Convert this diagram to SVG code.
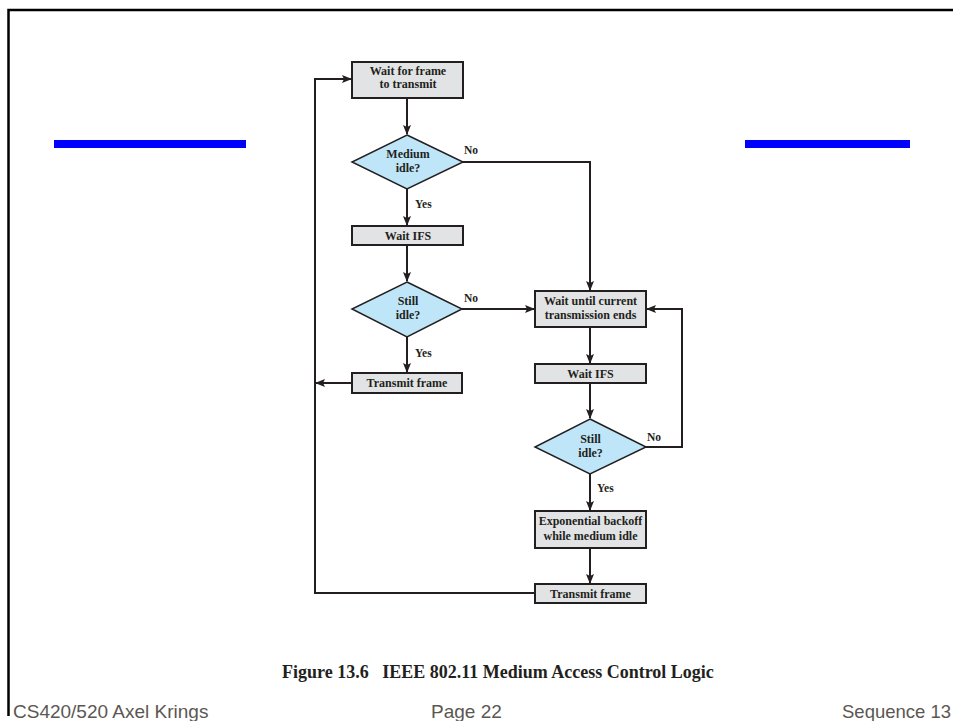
<svg xmlns="http://www.w3.org/2000/svg" width="953" height="721" viewBox="0 0 953 721">
<defs>
<style>
.box{fill:#e2e3e4;stroke:#231f20;stroke-width:2}
.dia{fill:#bfe6f8;stroke:#231f20;stroke-width:1.5}
.t{font-family:"Liberation Serif","Times New Roman",serif;font-weight:bold;font-size:12px;fill:#231f20;text-anchor:middle}
.lbl{font-family:"Liberation Serif","Times New Roman",serif;font-weight:bold;font-size:11.5px;fill:#231f20}
.c{fill:none;stroke:#231f20;stroke-width:2}
.foot{font-family:"Liberation Sans",Arial,sans-serif;font-size:19px;fill:#5b5752}
</style>
<marker id="ah" markerWidth="10" markerHeight="8" refX="9" refY="4" orient="auto" markerUnits="userSpaceOnUse">
<path d="M0,0 L10,4 L0,8 L2,4 Z" fill="#231f20"/>
</marker>
</defs>
<rect width="953" height="721" fill="#fff"/>
<path d="M8.5,716 V10 H953" fill="none" stroke="#000" stroke-width="2.5"/>
<rect x="54" y="140" width="192" height="8" fill="#0000ff"/>
<rect x="745" y="140" width="165" height="8" fill="#0000ff"/>

<g id="connectors">
<path class="c" d="M407,98 V134" marker-end="url(#ah)"/>
<path class="c" d="M407,189 V225" marker-end="url(#ah)"/>
<path class="c" d="M463,162 H590 V290" marker-end="url(#ah)"/>
<path class="c" d="M407,245 V281" marker-end="url(#ah)"/>
<path class="c" d="M407,337 V372" marker-end="url(#ah)"/>
<path class="c" d="M462,309 H534" marker-end="url(#ah)"/>
<path class="c" d="M352,383 H316" marker-end="url(#ah)"/>
<path class="c" d="M590,327 V363" marker-end="url(#ah)"/>
<path class="c" d="M590,383 V418" marker-end="url(#ah)"/>
<path class="c" d="M646,447 H682 V309 H647" marker-end="url(#ah)"/>
<path class="c" d="M590,474 V510" marker-end="url(#ah)"/>
<path class="c" d="M590,548 V583" marker-end="url(#ah)"/>
<path class="c" d="M535,593 H315 V79 H351" marker-end="url(#ah)"/>
<text class="lbl" x="464" y="154">No</text>
<text class="lbl" x="415" y="208">Yes</text>
<text class="lbl" x="464" y="302">No</text>
<text class="lbl" x="415" y="357">Yes</text>
<text class="lbl" x="647" y="441">No</text>
<text class="lbl" x="597" y="492">Yes</text>
</g>

<g id="wait-frame">
<rect class="box" x="352" y="62" width="111" height="36"/>
<text class="t" x="408" y="75">Wait for frame</text>
<text class="t" x="408" y="88">to transmit</text>
</g>
<g id="medium-idle">
<polygon class="dia" points="407,135 463,162 407,189 352,162"/>
<text class="t" x="408" y="158">Medium</text>
<text class="t" x="408" y="172">idle?</text>
</g>
<g id="wait-ifs-1">
<rect class="box" x="352" y="226" width="111" height="19"/>
<text class="t" x="408" y="240">Wait IFS</text>
</g>
<g id="still-idle-1">
<polygon class="dia" points="407,282 462,309 407,337 352,309"/>
<text class="t" x="408" y="305">Still</text>
<text class="t" x="408" y="319">idle?</text>
</g>
<g id="transmit-1">
<rect class="box" x="352" y="373" width="110" height="20"/>
<text class="t" x="407" y="387">Transmit frame</text>
</g>
<g id="wait-until">
<rect class="box" x="535" y="291" width="111" height="36"/>
<text class="t" x="590.5" y="305">Wait until current</text>
<text class="t" x="590.5" y="319">transmission ends</text>
</g>
<g id="wait-ifs-2">
<rect class="box" x="535" y="364" width="111" height="19"/>
<text class="t" x="590.5" y="378">Wait IFS</text>
</g>
<g id="still-idle-2">
<polygon class="dia" points="590,419 646,447 590,474 535,447"/>
<text class="t" x="590.5" y="443">Still</text>
<text class="t" x="590.5" y="457">idle?</text>
</g>
<g id="backoff">
<rect class="box" x="535" y="511" width="111" height="37"/>
<text class="t" x="590.5" y="525">Exponential backoff</text>
<text class="t" x="590.5" y="540">while medium idle</text>
</g>
<g id="transmit-2">
<rect class="box" x="535" y="584" width="111" height="19"/>
<text class="t" x="590.5" y="598">Transmit frame</text>
</g>

<text x="282" y="678" style="font-family:'Liberation Serif','Times New Roman',serif;font-weight:bold;font-size:18px;fill:#231f20" xml:space="preserve">Figure 13.6   IEEE 802.11 Medium Access Control Logic</text>
<text class="foot" x="13" y="718">CS420/520 Axel Krings</text>
<text class="foot" x="431" y="718">Page 22</text>
<text class="foot" x="842" y="718" style="font-size:18.5px">Sequence 13</text>
</svg>
